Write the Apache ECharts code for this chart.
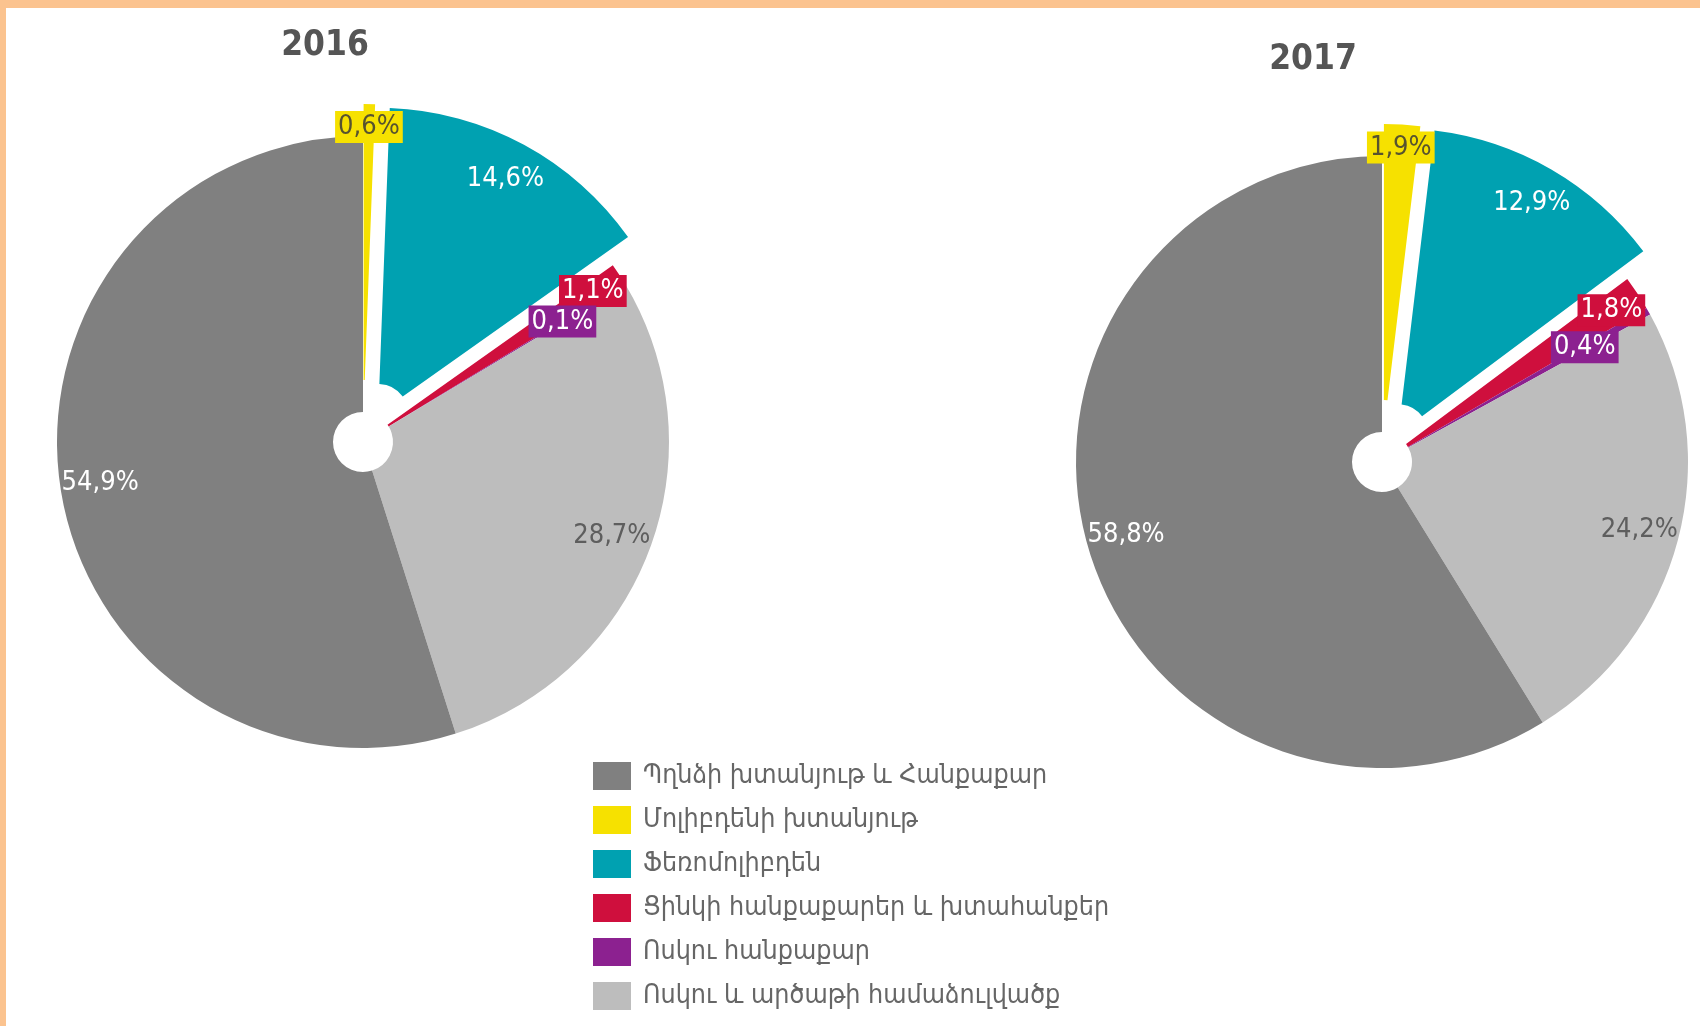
<!DOCTYPE html>
<html lang="hy">
<head>
    <meta charset="utf-8">
    <title>2016 / 2017</title>
    <script type="text/javascript" src="https://cdn.jsdelivr.net/npm/echarts/dist/echarts.min.js"></script>
    <style type="text/css">
        html, body {
            margin: 0;
            padding: 0;
            background-color: #ffffff;
        }

        #main {
            position: absolute;
            left: 0;
            top: 0;
            width: 1700px;
            height: 1026px;
        }

        .frame {
            position: absolute;
            left: 0;
            top: 0;
            width: 1700px;
            height: 1026px;
            box-sizing: border-box;
            border-left: 6px solid #fbc38f;
            border-top: 8px solid #fbc38f;
            pointer-events: none;
        }
    </style>
</head>

<body>
<div id="main"></div>
<div class="frame"></div>

<script type="text/javascript">
    // data, in legend order
    var categories = ['Պղնձի խտանյութ և Հանքաքար', 'Մոլիբդենի խտանյութ', 'Ֆեռոմոլիբդեն',
        'Ցինկի հանքաքարեր և խտահանքեր', 'Ոսկու հանքաքար', 'Ոսկու և արծաթի համաձուլվածք'];
    var years = ['2016', '2017'];
    var share2016 = [54.9, 0.6, 14.6, 1.1, 0.1, 28.7];
    var share2017 = [58.8, 1.9, 12.9, 1.8, 0.4, 24.2];

    // slices clockwise from 12 o'clock
    var pieOrder = [1, 2, 3, 4, 5, 0];
    var exploded = [false, true, true, false, false, false];

    // styles
    var colors = ['#808080', '#f6e100', '#00a1b1', '#cf0f3d', '#8c2190', '#bdbdbd'];
    var labelText = ['#ffffff', '#57532f', '#ffffff', '#ffffff', '#ffffff', '#5e5e5e'];
    var labelBox = [null, '#f6e100', null, '#cf0f3d', '#8c2190', null];
    var labelDist = [266, 283, 267, 275, 233, 266];
    var centers = [[363, 442], [1382, 462]];
    var R = 306, R0 = 30;
    var labelFont = "'Liberation Sans Narrow', 'DejaVu Sans Condensed', sans-serif";

    function fmt(p) {
        return String(p.value).replace('.', ',') + '%';
    }

    function pieData(values, ghost, showIdx) {
        return pieOrder.map(function (k) {
            var item = {
                name: categories[k],
                value: values[k],
                selected: exploded[k],
                itemStyle: {color: ghost ? 'rgba(0,0,0,0)' : colors[k]}
            };
            if (ghost) {
                item.label = {
                    show: k === showIdx,
                    color: labelText[k],
                    backgroundColor: labelBox[k] || 'transparent',
                    padding: labelBox[k] ? [2, 3, 1, 3] : 0
                };
            }
            return item;
        });
    }

    var series = [];
    [share2016, share2017].forEach(function (values, p) {
        series.push({
            type: 'pie',
            name: years[p],
            center: centers[p],
            radius: [R0, R],
            startAngle: 90,
            clockwise: true,
            selectedMode: 'multiple',
            selectedOffset: 32,
            avoidLabelOverlap: false,
            animation: false,
            label: {show: false},
            labelLine: {show: false},
            emphasis: {disabled: true},
            itemStyle: {borderWidth: 0, borderRadius: 0},
            data: pieData(values, false)
        });
    });
    // label rings: one transparent ring per slice, so each label sits at its own radius
    [share2016, share2017].forEach(function (values, p) {
        categories.forEach(function (c, i) {
            series.push({
                type: 'pie',
                center: centers[p],
                radius: [2 * (labelDist[i] - 3) - R, R],
                startAngle: 90,
                clockwise: true,
                selectedMode: 'multiple',
                selectedOffset: 32,
                silent: true,
                legendHoverLink: false,
                avoidLabelOverlap: false,
                animation: false,
                emphasis: {disabled: true},
                itemStyle: {borderWidth: 0},
                labelLine: {show: false},
                labelLayout: {hideOverlap: false},
                label: {
                    position: 'inside',
                    formatter: fmt,
                    fontFamily: labelFont,
                    fontSize: 27,
                    lineHeight: 29,
                    textBorderWidth: 0
                },
                data: pieData(values, true, i)
            });
        });
    });

    var myChart = echarts.init(document.getElementById('main'));

    var titleStyle = {fontSize: 35, fontWeight: 'bold', color: '#555555', fontFamily: labelFont};

    var option = {
        backgroundColor: 'transparent',
        title: [{
            text: years[0],
            left: 325,
            top: 28,
            textAlign: 'center',
            padding: 0,
            textStyle: titleStyle
        }, {
            text: years[1],
            left: 1313,
            top: 42,
            textAlign: 'center',
            padding: 0,
            textStyle: titleStyle
        }],
        legend: {
            orient: 'vertical',
            left: 593,
            top: 762,
            padding: 0,
            icon: 'rect',
            itemWidth: 38,
            itemHeight: 28,
            itemGap: 16,
            selectedMode: false,
            data: categories,
            textStyle: {
                fontSize: 26.6,
                lineHeight: 28,
                color: '#666666',
                fontFamily: "'DejaVu Sans Condensed', 'DejaVu Sans', sans-serif",
                padding: [0, 0, 0, 7]
            }
        },
        series: series
    };

    myChart.setOption(option);
</script>

</body>
</html>
